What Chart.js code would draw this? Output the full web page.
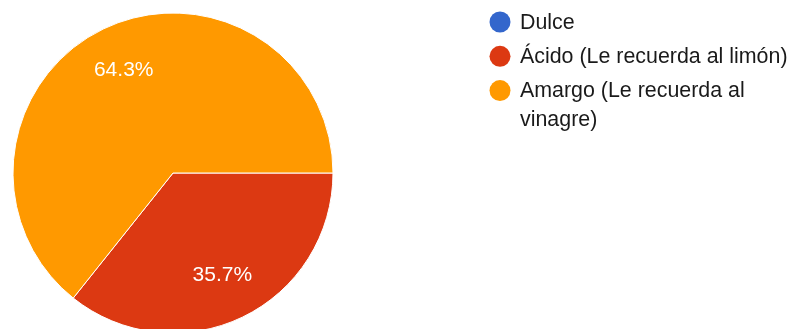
<!DOCTYPE html>
<html>
<head>
<meta charset="utf-8">
<script src="https://cdn.jsdelivr.net/npm/chart.js@4.4.1/dist/chart.umd.min.js"></script>
<style>
  html, body { margin: 0; padding: 0; background: #fff; }
  #wrap { width: 794px; height: 329px; overflow: hidden; position: relative; }
</style>
</head>
<body>
<div id="wrap"><canvas id="chart" width="794" height="346"></canvas></div>
<script>
const labels = ['Dulce', 'Ácido (Le recuerda al limón)', 'Amargo (Le recuerda al vinagre)'];
const counts = [0, 5, 9];
const colors = ['#3366cc', '#dc3912', '#ff9900'];

const FONT = '"Liberation Sans", Arial, sans-serif';

// percentage text inside each slice
const sliceLabels = {
  id: 'sliceLabels',
  afterDatasetsDraw(chart) {
    const { ctx } = chart;
    const meta = chart.getDatasetMeta(0);
    const total = counts.reduce((a, b) => a + b, 0);
    ctx.save();
    ctx.fillStyle = '#ffffff';
    ctx.font = '21px ' + FONT;
    ctx.textAlign = 'center';
    ctx.textBaseline = 'middle';
    meta.data.forEach((arc, i) => {
      if (!counts[i]) return;
      const { x, y, startAngle, endAngle, outerRadius } = arc.getProps(['x', 'y', 'startAngle', 'endAngle', 'outerRadius']);
      const mid = (startAngle + endAngle) / 2;
      const r = outerRadius * 0.71;
      const pct = (counts[i] / total * 100).toFixed(1) + '%';
      ctx.fillText(pct, x + Math.cos(mid) * r, y + Math.sin(mid) * r);
    });
    ctx.restore();
  },
};

// legend on the right, wrapping long entries
const sideLegend = {
  id: 'sideLegend',
  afterDraw(chart) {
    const { ctx } = chart;
    const dotX = 500;
    const textX = 520;
    const maxW = 794 - textX - 2;
    let y = 22;
    ctx.save();
    ctx.font = '21.4px ' + FONT;
    ctx.textBaseline = 'middle';
    ctx.textAlign = 'left';
    labels.forEach((label, i) => {
      ctx.fillStyle = colors[i];
      ctx.beginPath();
      ctx.arc(dotX, y, 10.5, 0, Math.PI * 2);
      ctx.fill();

      const words = label.split(' ');
      const lines = [];
      let line = '';
      words.forEach((w) => {
        const test = line ? line + ' ' + w : w;
        if (line && ctx.measureText(test).width > maxW) {
          lines.push(line);
          line = w;
        } else {
          line = test;
        }
      });
      lines.push(line);

      ctx.fillStyle = '#1a1a1a';
      lines.forEach((l, k) => {
        ctx.fillText(l, textX, y + 1 + k * 28.5);
      });
      y += (lines.length - 1) * 28.5 + 34.3;
    });
    ctx.restore();
  },
};

new Chart(document.getElementById('chart'), {
  type: 'pie',
  data: {
    labels: labels,
    datasets: [{
      data: counts,
      backgroundColor: colors,
      borderColor: '#ffffff',
      borderWidth: 1,
    }],
  },
  options: {
    responsive: false,
    animation: false,
    rotation: 90,
    radius: 160,
    layout: { padding: { left: 0, top: 0, right: 448, bottom: 0 } },
    plugins: {
      legend: { display: false },
      tooltip: { enabled: false },
    },
  },
  plugins: [sliceLabels, sideLegend],
});
</script>
</body>
</html>
